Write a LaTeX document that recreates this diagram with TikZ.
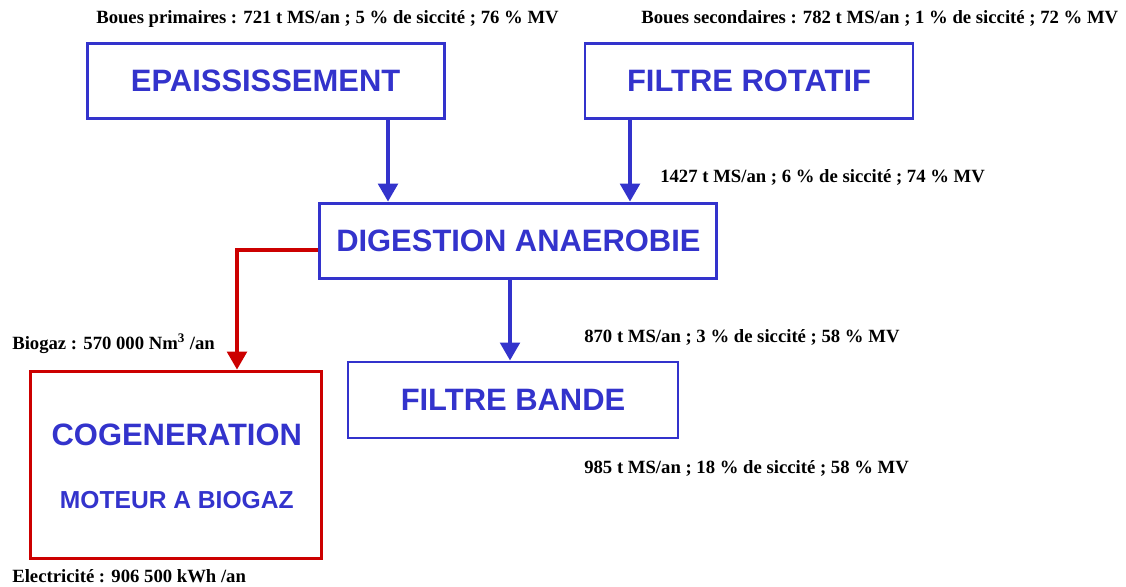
\documentclass[tikz,border=0pt]{standalone}
\usepackage{fontspec}
\setmainfont{Liberation Serif}
\setsansfont{Liberation Sans}
\usepackage{xcolor}
\usetikzlibrary{arrows.meta,positioning,calc}
\definecolor{procblue}{RGB}{51,51,204}
\definecolor{gasred}{RGB}{204,0,0}

\begin{document}
\begin{tikzpicture}[
  blk/.style={draw=procblue, line width=2.1pt, minimum height=1.875cm, inner sep=0pt, text=procblue, font=\sffamily\bfseries\fontsize{22}{26}\selectfont},
  gasblk/.style={blk, draw=gasred},
  boxtxt/.style={inner sep=0pt, text=procblue, font=\sffamily\bfseries\fontsize{22}{26}\selectfont},
  subtxt/.style={boxtxt, font=\sffamily\bfseries\fontsize{17.5}{21}\selectfont},
  flow/.style={procblue, line width=2.6pt, -{Triangle[width=4.9mm,length=4.5mm]}},
  gasflow/.style={flow, gasred},
  qty/.style={font=\bfseries\fontsize{13.3}{15}\selectfont, anchor=base west, inner sep=0pt}
]
\useasboundingbox (0,0) rectangle (28.15,14.675);

% ==================== PROCESS BLOCKS ====================
\node[blk, minimum width=8.925cm] (epa) at (6.64,12.66) {EPAISSISSEMENT};
\node[blk, minimum width=8.2cm] (rot) at (18.725,12.66) {FILTRE ROTATIF};
\node[blk, minimum width=9.925cm] (dig) at (12.96,8.66) {DIGESTION ANAEROBIE};
\node[blk, minimum width=8.25cm, minimum height=1.9cm] (band) at (12.825,4.675) {FILTRE BANDE};

% Cogeneration (red frame, two lines)
\node[gasblk, minimum width=7.275cm, minimum height=4.675cm] (cog) at (4.39,3.06) {};
\node[boxtxt] (cogname) at (4.42,3.8) {COGENERATION};
\node[subtxt] (cogengine) at (4.42,2.175) {MOTEUR A BIOGAZ};

% ==================== FLOWS ====================
\coordinate (xepa) at (9.7,0);
\coordinate (xrot) at (15.75,0);
\coordinate (xband) at (12.75,0);
\coordinate (xgas) at (5.925,0);
\coordinate (ygas) at (0,8.425);

\draw[flow] (epa.south -| xepa) -- (dig.north -| xepa);
\draw[flow] (rot.south -| xrot) -- (dig.north -| xrot);
\draw[flow] (dig.south -| xband) -- (band.north -| xband);
\draw[gasflow] (dig.west |- ygas) -| (cog.north -| xgas);

% ==================== QUANTITIES ====================
\node[qty] (inprim) at (2.4,14.075) {Boues primaires : 721 t MS/an ; 5 \% de siccité ; 76 \% MV};
\node[qty] (insec) at (16.025,14.075) {Boues secondaires : 782 t MS/an ; 1 \% de siccité ; 72 \% MV};
\node[qty] (mixed) at (16.5,10.1) {1427 t MS/an ; 6 \% de siccité ; 74 \% MV};
\node[qty] (digested) at (14.6,6.1) {870 t MS/an ; 3 \% de siccité ; 58 \% MV};
\node[qty] (dried) at (14.6,2.825) {985 t MS/an ; 18 \% de siccité ; 58 \% MV};
\node[qty] (biogas) at (0.3,5.925) {Biogaz : 570 000 Nm\textsuperscript{3} /an};
\node[qty] (power) at (0.3,0.1) {Electricité : 906 500 kWh /an};

\end{tikzpicture}
\end{document}
